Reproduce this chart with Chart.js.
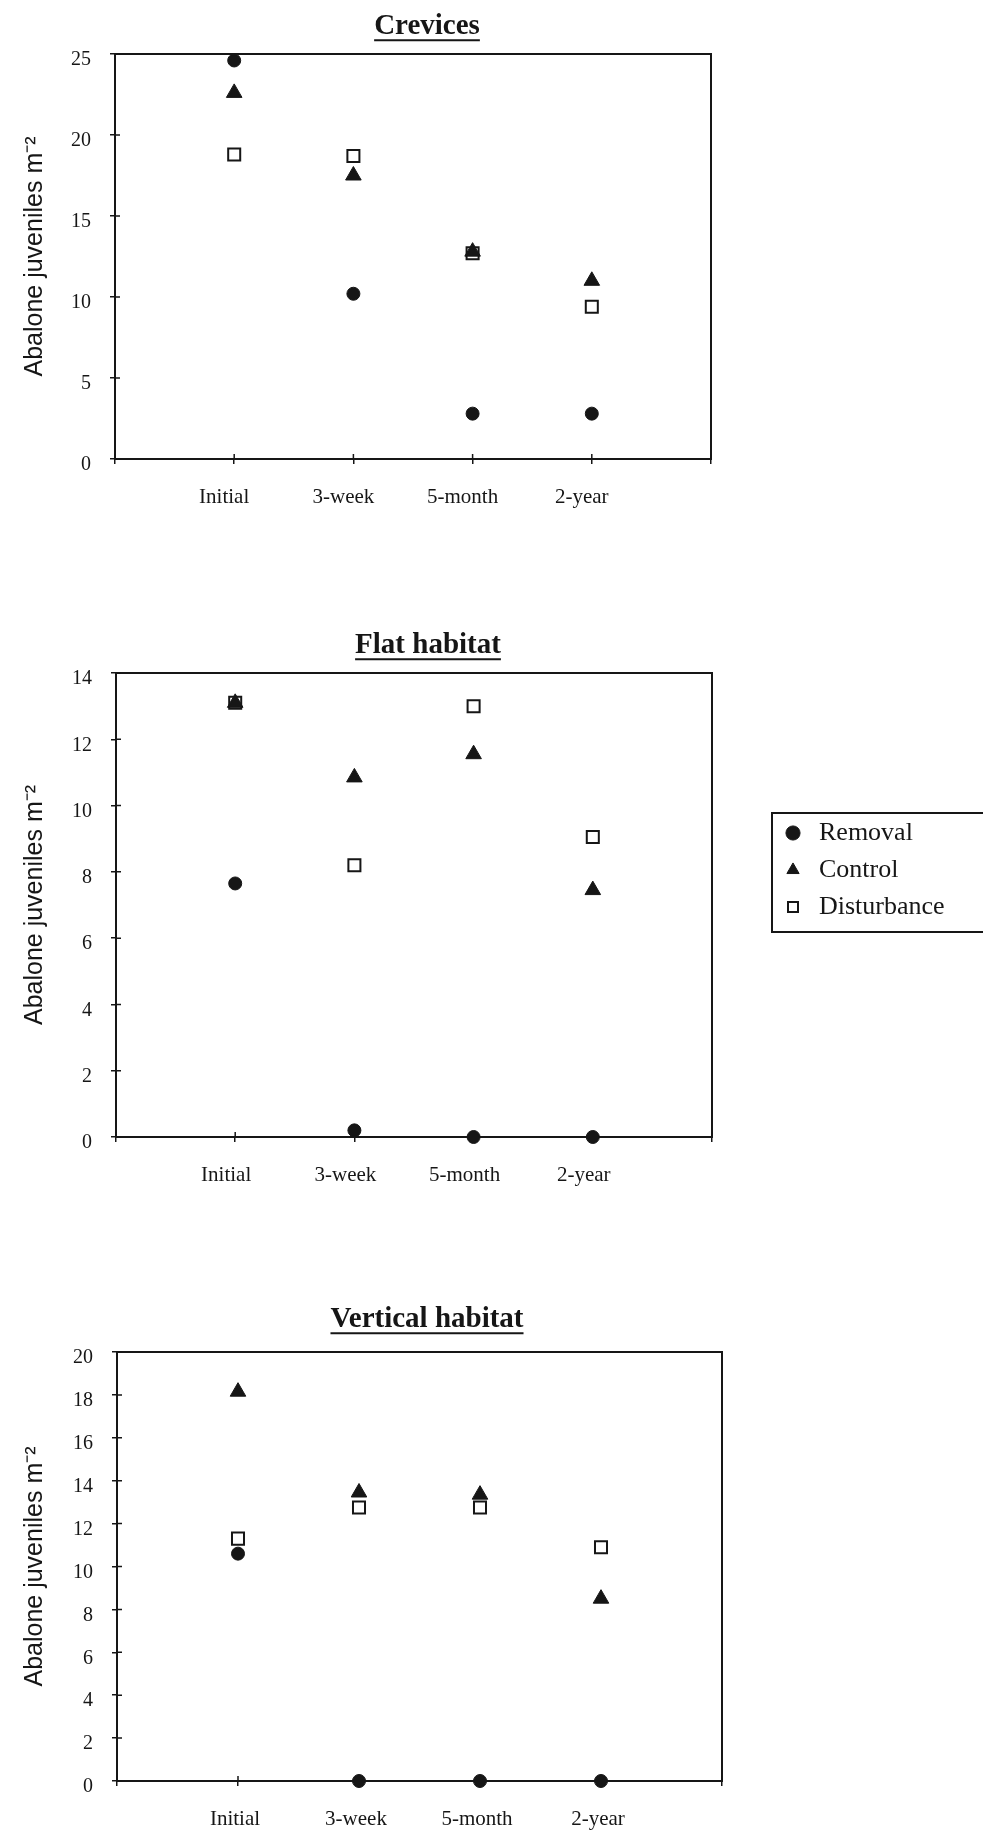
<!DOCTYPE html>
<html>
<head>
<meta charset="utf-8">
<script src="https://cdn.jsdelivr.net/npm/chart.js@4.4.1/dist/chart.umd.min.js"></script>
<style>
  html, body { margin: 0; padding: 0; background: #fff; }
  body { width: 983px; height: 1833px; position: relative; overflow: hidden; }
  canvas { position: absolute; left: 0; }
</style>
</head>
<body>
<canvas id="crevices" width="983" height="590" style="top:0px"></canvas>
<canvas id="flat" width="983" height="590" style="top:619px"></canvas>
<canvas id="vertical" width="983" height="535" style="top:1298px"></canvas>
<script>
// categories and series
const categories = ["Initial", "3-week", "5-month", "2-year"];
const seriesNames = ["Removal", "Control", "Disturbance"];

const crevicesRemoval = [24.6, 10.2, 2.8, 2.8];
const crevicesControl = [22.6, 17.5, 12.8, 11.0];
const crevicesDisturbance = [18.8, 18.7, 12.7, 9.4];

const flatRemoval = [7.65, 0.2, 0, 0];
const flatControl = [13.1, 10.85, 11.55, 7.45];
const flatDisturbance = [13.1, 8.2, 13.0, 9.05];

const verticalRemoval = [10.6, 0, 0, 0];
const verticalControl = [18.15, 13.45, 13.35, 8.5];
const verticalDisturbance = [11.3, 12.75, 12.75, 10.9];

// y tick labels
const crevicesTicks = [0, 5, 10, 15, 20, 25];
const flatTicks = [0, 2, 4, 6, 8, 10, 12, 14];
const verticalTicks = [0, 2, 4, 6, 8, 10, 12, 14, 16, 18, 20];

const ink = "#161616";
const serif = '"Liberation Serif", "Times New Roman", serif';
const sans = '"Liberation Sans", Arial, sans-serif';
const yTitle = "Abalone juveniles m\u207B\u00B2";

Chart.defaults.font.family = serif;
Chart.defaults.color = ink;

function toPoints(values) {
  return values.map((v, i) => ({ x: i + 1, y: v }));
}

function makeSets(removal, control, disturbance) {
  return [
    { label: seriesNames[0], data: toPoints(removal), pointStyle: "circle", pointRadius: 6.5,
      backgroundColor: ink, borderColor: ink, borderWidth: 1, clip: false },
    { label: seriesNames[1], data: toPoints(control), pointStyle: "triangle", pointRadius: 9,
      backgroundColor: ink, borderColor: ink, borderWidth: 1, clip: false },
    { label: seriesNames[2], data: toPoints(disturbance), pointStyle: "rect", pointRadius: 8.5,
      backgroundColor: "rgba(255,255,255,0)", borderColor: ink, borderWidth: 2, clip: false }
  ];
}

// box around the plot plus the inward half of each tick
const frame = {
  id: "frame",
  beforeDatasetsDraw(chart) {
    const { ctx, chartArea: a, scales: { x, y } } = chart;
    ctx.save();
    ctx.strokeStyle = ink;
    ctx.lineWidth = 2;
    ctx.strokeRect(a.left, a.top, a.right - a.left, a.bottom - a.top);
    ctx.lineWidth = 1.5;
    ctx.beginPath();
    x.ticks.forEach(t => {
      const px = x.getPixelForValue(t.value);
      ctx.moveTo(px, a.bottom);
      ctx.lineTo(px, a.bottom - 5);
    });
    y.ticks.forEach(t => {
      const py = y.getPixelForValue(t.value);
      ctx.moveTo(a.left, py);
      ctx.lineTo(a.left + 5, py);
    });
    ctx.stroke();
    ctx.restore();
  }
};

// underline under the chart title
const underline = {
  id: "underline",
  afterDraw(chart) {
    const t = chart.titleBlock;
    const f = Chart.helpers.toFont(t.options.font);
    const ctx = chart.ctx;
    ctx.save();
    ctx.font = f.string;
    const w = ctx.measureText(t.options.text).width;
    const cx = (t.left + t.right) / 2;
    const y = t.top + t.options.padding.top + f.lineHeight / 2 + f.size * 0.34 + 4;
    ctx.strokeStyle = ink;
    ctx.lineWidth = 2;
    ctx.beginPath();
    ctx.moveTo(cx - w / 2, y);
    ctx.lineTo(cx + w / 2, y);
    ctx.stroke();
    ctx.restore();
  }
};

function makeChart(id, spec) {
  const p = spec.plot;
  const canvas = document.getElementById(id);
  const H = canvas.height;
  const ticks = spec.ticks;

  const place = {
    id: "place",
    afterLayout(chart) {
      const t = chart.titleBlock;
      t.left = spec.titleX - 427;
      t.right = spec.titleX + 427;
      if (spec.legend) {
        const lg = chart.legend;
        lg.left = spec.legend.left;
        lg.top = spec.legend.top;
        lg.right = 983;
        lg.bottom = spec.legend.top + 140;
        lg.width = lg.right - lg.left;
        lg.height = lg.bottom - lg.top;
      }
    },
    afterDraw(chart) {
      if (!spec.legend) return;
      const b = spec.legend.box;
      const ctx = chart.ctx;
      ctx.save();
      ctx.strokeStyle = ink;
      ctx.lineWidth = 2;
      ctx.strokeRect(b.left, b.top, 1000 - b.left, b.bottom - b.top);
      ctx.restore();
    }
  };

  return new Chart(canvas, {
    type: "scatter",
    data: { datasets: makeSets(spec.removal, spec.control, spec.disturbance) },
    options: {
      responsive: false,
      animation: false,
      events: [],
      layout: { padding: { left: 0, top: 0, right: 983 - p.right, bottom: 0 } },
      scales: {
        x: {
          type: "linear",
          min: 0,
          max: categories.length + 1,
          afterFit: s => { s.height = H - p.bottom; },
          ticks: {
            stepSize: 1,
            autoSkip: false,
            maxRotation: 0,
            labelOffset: spec.labelShift,
            padding: 21,
            color: ink,
            font: { family: serif, size: 21 },
            callback: v => categories[v - 1] || ""
          },
          grid: { drawOnChartArea: false, tickLength: 5, color: ink, lineWidth: 1.5 },
          border: { color: ink, width: 2 }
        },
        y: {
          min: ticks[0],
          max: ticks[ticks.length - 1],
          afterFit: s => { s.width = p.left; },
          ticks: {
            stepSize: ticks[1] - ticks[0],
            padding: 19,
            labelOffset: 6,
            color: ink,
            font: { family: serif, size: 20 }
          },
          title: {
            display: true,
            text: yTitle,
            color: ink,
            font: { family: sans, size: 25 },
            padding: { top: 20, bottom: 0 }
          },
          grid: { drawOnChartArea: false, tickLength: 5, color: ink, lineWidth: 1.5 },
          border: { color: ink, width: 2 }
        }
      },
      plugins: {
        title: {
          display: true,
          text: spec.title,
          color: ink,
          font: { family: serif, size: 29, weight: "bold" },
          padding: spec.titlePad
        },
        legend: spec.legend ? {
          display: true,
          position: "chartArea",
          align: "start",
          labels: {
            usePointStyle: true,
            boxWidth: 26,
            boxHeight: 10,
            padding: 11,
            color: ink,
            textAlign: "left",
            font: { family: serif, size: 26 }
          }
        } : { display: false },
        tooltip: { enabled: false }
      }
    },
    plugins: [frame, underline, place]
  });
}

makeChart("crevices", {
  title: "Crevices",
  titleX: 427,
  titlePad: { top: 9, bottom: 10.2 },
  plot: { left: 115, right: 711, bottom: 459 },
  ticks: crevicesTicks,
  labelShift: -10,
  removal: crevicesRemoval, control: crevicesControl, disturbance: crevicesDisturbance
});

makeChart("flat", {
  title: "Flat habitat",
  titleX: 428,
  titlePad: { top: 9, bottom: 10.2 },
  plot: { left: 116, right: 712, bottom: 518 },
  ticks: flatTicks,
  labelShift: -9,
  removal: flatRemoval, control: flatControl, disturbance: flatDisturbance,
  legend: { left: 769, top: 190, box: { left: 772, top: 194, bottom: 313 } }
});

makeChart("vertical", {
  title: "Vertical habitat",
  titleX: 427,
  titlePad: { top: 4, bottom: 15.2 },
  plot: { left: 117, right: 722, bottom: 483 },
  ticks: verticalTicks,
  labelShift: -3,
  removal: verticalRemoval, control: verticalControl, disturbance: verticalDisturbance
});
</script>
</body>
</html>
